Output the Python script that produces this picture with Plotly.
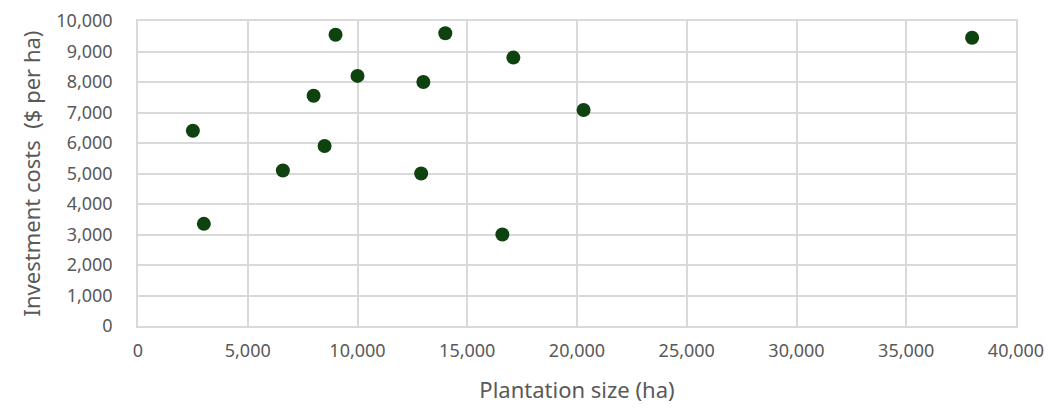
import plotly.graph_objects as go

plantation_size_ha = [2500, 3000, 6600, 8000, 8500, 9000, 10000, 12900, 13000, 14000, 16600, 17100, 20300, 38000]
investment_cost_usd_per_ha = [6400, 3350, 5100, 7550, 5900, 9550, 8200, 5000, 8000, 9600, 3000, 8800, 7080, 9450]

x_ticks = [0, 5000, 10000, 15000, 20000, 25000, 30000, 35000, 40000]
y_ticks = [0, 1000, 2000, 3000, 4000, 5000, 6000, 7000, 8000, 9000, 10000]

font_family = "Noto Sans, Open Sans, sans-serif"
text_color = "#595959"
grid_color = "#d9d9d9"

fig = go.Figure(
    go.Scatter(
        x=plantation_size_ha,
        y=investment_cost_usd_per_ha,
        mode="markers",
        marker=dict(size=14, color="#0e420e"),
        showlegend=False,
        cliponaxis=False,
    )
)

# page body has an 8px default margin; margins compensate for it
fig.update_layout(
    width=1053,
    height=408,
    margin=dict(l=130, r=45, t=13, b=90, autoexpand=False),
    paper_bgcolor="white",
    plot_bgcolor="white",
    font=dict(family=font_family, color=text_color, size=15),
    xaxis=dict(
        range=[0, 40000],
        tickvals=x_ticks,
        ticktext=[f"{v:,}" for v in x_ticks],
        showgrid=True,
        gridcolor=grid_color,
        gridwidth=1.5,
        zeroline=False,
        showline=True,
        linecolor=grid_color,
        linewidth=1.5,
        mirror=True,
        ticks="outside",
        ticklen=8,
        tickcolor="rgba(0,0,0,0)",
        tickfont=dict(size=18, color=text_color),
        title=dict(text="Plantation size (ha)", font=dict(size=22, color=text_color), standoff=21),
    ),
    yaxis=dict(
        range=[0, 10000],
        tickvals=y_ticks,
        ticktext=[f"{v:,}" for v in y_ticks],
        showgrid=True,
        gridcolor=grid_color,
        gridwidth=1.5,
        zeroline=False,
        showline=True,
        linecolor=grid_color,
        linewidth=1.5,
        mirror=True,
        ticks="outside",
        ticklen=20,
        tickcolor="rgba(0,0,0,0)",
        tickfont=dict(size=18, color=text_color),
        title=dict(text="Investment costs  ($ per ha)", font=dict(size=22, color=text_color), standoff=10),
    ),
)

fig.write_html("out.html")
